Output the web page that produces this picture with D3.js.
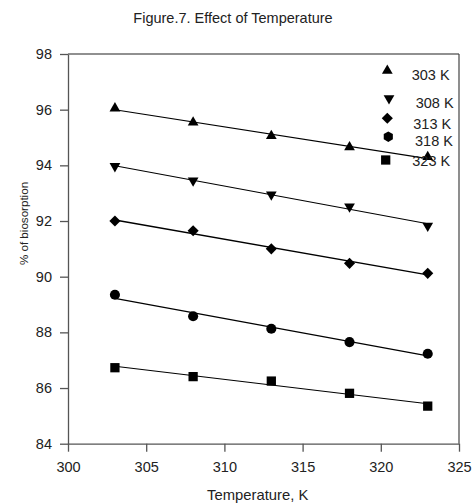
<!DOCTYPE html>
<html>
<head>
<meta charset="utf-8">
<script src="https://cdn.jsdelivr.net/npm/d3@7"></script>
<style>
  html, body { margin: 0; padding: 0; background: #fff; }
  svg { display: block; font-family: "Liberation Sans", Arial, sans-serif; }
</style>
</head>
<body>
<svg id="chart" width="475" height="504"></svg>
<script>
// ---- data ----
const temperatures = [303, 308, 313, 318, 323];
const seriesNames = ["303 K", "308 K", "313 K", "318 K", "323 K"];
const s303 = [96.05, 95.54, 95.06, 94.65, 94.30];   // triangle up
const s308 = [93.97, 93.45, 92.95, 92.52, 91.83];   // triangle down
const s313 = [92.00, 91.65, 91.00, 90.48, 90.12];   // diamond
const s318 = [89.35, 88.58, 88.13, 87.65, 87.23];   // circle
const s323 = [86.73, 86.41, 86.25, 85.81, 85.35];   // square
const xTicks = [300, 305, 310, 315, 320, 325];
const yTicks = [84, 86, 88, 90, 92, 94, 96, 98];
const titleText = "Figure.7. Effect of Temperature";
const xTitle = "Temperature, K";
const yTitle = "% of biosorption";

// ---- layout ----
const W = 475, H = 504;
const margin = {left: 68, right: 16, top: 54, bottom: 60.3};
const svg = d3.select("#chart");
const x = d3.scaleLinear().domain([300, 325]).range([margin.left, W - margin.right]);
const y = d3.scaleLinear().domain([84, 98]).range([H - margin.bottom, margin.top]);

// custom symbol types
const hexagon = {
  draw(ctx, size) {
    const r = Math.sqrt(size / (1.5 * Math.sqrt(3)));
    for (let i = 0; i < 6; i++) {
      const a = Math.PI / 6 + i * Math.PI / 3;
      const px = r * Math.cos(a), py = r * Math.sin(a);
      if (i === 0) ctx.moveTo(px, py); else ctx.lineTo(px, py);
    }
    ctx.closePath();
  }
};
const symbolDefs = [
  {type: d3.symbolTriangle, size: 50, rot: 0},
  {type: d3.symbolTriangle, size: 50, rot: 180},
  {type: d3.symbolSquare, size: 62, rot: 45},
  {type: d3.symbolCircle, size: 80, rot: 0},
  {type: d3.symbolSquare, size: 86, rot: 0}
];
const legendSymbols = [
  symbolDefs[0], symbolDefs[1], symbolDefs[2],
  {type: hexagon, size: 72, rot: 0},
  symbolDefs[4]
];
const seriesValues = [s303, s308, s313, s318, s323];
// legend placement (marker x,y ; label x,y-center) - irregular as in original
const legendLayout = [
  {mx: 387.3, my: 70.7, tx: 411.7, ty: 74.3},
  {mx: 389.0, my: 98.3, tx: 415.7, ty: 102.7},
  {mx: 387.3, my: 118.3, tx: 413.3, ty: 123.3},
  {mx: 388.3, my: 136.7, tx: 415.0, ty: 140.7},
  {mx: 385.7, my: 160.0, tx: 412.3, ty: 161.0}
];

const axisColor = "#555";

// title
svg.append("text")
  .attr("x", 233).attr("y", 23)
  .attr("text-anchor", "middle")
  .attr("font-size", 14.5)
  .attr("fill", "#222")
  .text(titleText);

// frame top and right
svg.append("line")
  .attr("x1", x(300)).attr("x2", x(325)).attr("y1", y(98)).attr("y2", y(98))
  .attr("stroke", "#222").attr("stroke-width", 1.2);
svg.append("line")
  .attr("x1", x(325)).attr("x2", x(325)).attr("y1", y(98)).attr("y2", y(84))
  .attr("stroke", "#444").attr("stroke-width", 1.2);

// axes
const gx = svg.append("g")
  .attr("transform", `translate(0,${y(84)})`)
  .call(d3.axisBottom(x).tickValues(xTicks).tickSize(8).tickSizeOuter(0).tickPadding(10));
const gy = svg.append("g")
  .attr("transform", `translate(${x(300)},0)`)
  .call(d3.axisLeft(y).tickValues(yTicks).tickSize(8).tickSizeOuter(0).tickPadding(8));
[gx, gy].forEach(g => {
  g.select(".domain").attr("stroke", axisColor).attr("stroke-width", 1.3);
  g.selectAll(".tick line").attr("stroke", axisColor).attr("stroke-width", 1.3);
  g.selectAll(".tick text")
    .attr("font-family", "Liberation Sans, Arial, sans-serif")
    .attr("font-size", 14.5).attr("fill", "#222");
});

// axis titles
svg.append("text")
  .attr("x", 257.7).attr("y", 500)
  .attr("text-anchor", "middle")
  .attr("font-size", 14.8).attr("fill", "#222")
  .text(xTitle);
svg.append("text")
  .attr("transform", `translate(28,223.5) rotate(-90)`)
  .attr("text-anchor", "middle")
  .attr("font-size", 11.6).attr("fill", "#222")
  .text(yTitle);

// regression lines and markers
seriesValues.forEach((vals, i) => {
  const mx = d3.mean(temperatures), my = d3.mean(vals);
  let num = 0, den = 0;
  temperatures.forEach((t, j) => { num += (t - mx) * (vals[j] - my); den += (t - mx) * (t - mx); });
  const slope = num / den, icpt = my - slope * mx;
  const t0 = temperatures[0], t1 = temperatures[temperatures.length - 1];
  svg.append("line")
    .attr("x1", x(t0)).attr("y1", y(icpt + slope * t0))
    .attr("x2", x(t1)).attr("y2", y(icpt + slope * t1))
    .attr("stroke", "#000").attr("stroke-width", i === 2 ? 1.4 : 1.1);
  const sd = symbolDefs[i];
  svg.append("g").selectAll("path")
    .data(temperatures.map((t, j) => [t, vals[j]]))
    .join("path")
    .attr("d", d3.symbol().type(sd.type).size(sd.size))
    .attr("transform", d => `translate(${x(d[0])},${y(d[1])}) rotate(${sd.rot})`)
    .attr("fill", "#000");
});

// legend
seriesNames.forEach((name, i) => {
  const L = legendLayout[i], sd = legendSymbols[i];
  svg.append("path")
    .attr("d", d3.symbol().type(sd.type).size(sd.size))
    .attr("transform", `translate(${L.mx},${L.my}) rotate(${sd.rot})`)
    .attr("fill", "#000");
  svg.append("text")
    .attr("x", L.tx).attr("y", L.ty).attr("dy", "0.36em")
    .attr("font-size", 14.5).attr("fill", "#222")
    .text(name);
});
</script>
</body>
</html>
